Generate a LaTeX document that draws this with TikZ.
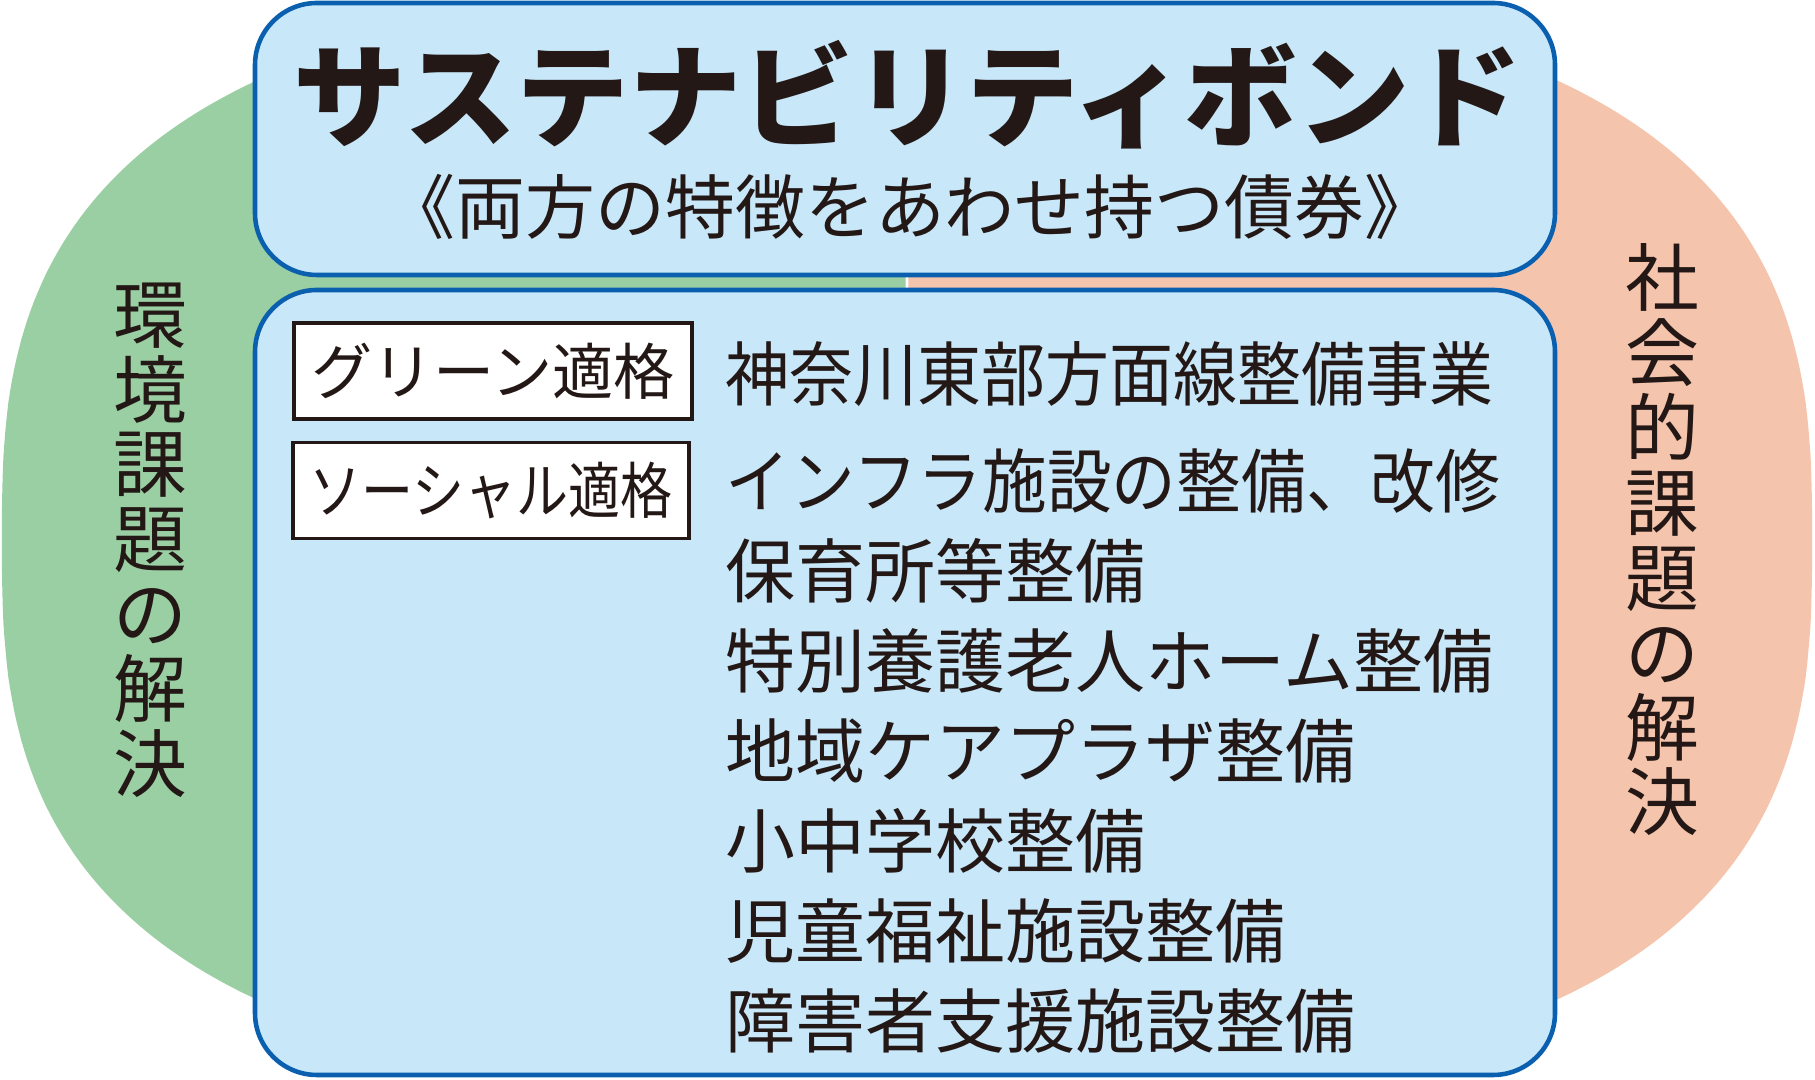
\documentclass[tikz,border=0pt]{standalone}
\usepackage{fontspec}
\newfontfamily\jpfont{Noto Sans CJK JP}
\definecolor{envgreen}{HTML}{9ACFA3}
\definecolor{socsalmon}{HTML}{F5C4AC}
\definecolor{bondfill}{HTML}{C8E7F9}
\definecolor{bondline}{HTML}{0A5FAF}
\definecolor{inkblack}{HTML}{231815}

\begin{document}
\begin{tikzpicture}[
            panel/.style={
              fill=bondfill,
              draw=bondline,
              line width=1.3pt,
              rounded corners=0.62cm
            },
            tagbox/.style={
              draw=inkblack,
              fill=white,
              line width=1pt,
              minimum width=3.98cm,
              minimum height=0.96cm,
              inner sep=0pt,
              text=inkblack,
              font=\jpfont\fontsize{17.4pt}{20pt}\selectfont
            },
            item/.style={
              anchor=west,
              inner sep=0pt,
              text=inkblack,
              font=\jpfont\fontsize{19.9pt}{23pt}\selectfont
            },
            vlbl/.style={
              align=center,
              inner sep=0pt,
              text=inkblack,
              font=\jpfont\fontsize{21pt}{21.3pt}\selectfont
            }
        ]
    \useasboundingbox (0,0) rectangle (18.15,10.8);
    \def\cx{9.07}
    \def\cy{5.4}
    \def\rx{9.05}
    \def\ry{5.5}

    % two halves of the background
    \begin{scope}
    \clip (0,0.1) rectangle (18.15,10.7);
    \fill[envgreen] plot[domain=90:0, samples=90, variable=\t]
        ({\cx-\rx*pow(cos(\t)+0.0001,0.7143)}, {\cy+\ry*pow(sin(\t)+0.0001,0.7143)})
        -- plot[domain=0:90, samples=90, variable=\t]
        ({\cx-\rx*pow(cos(\t)+0.0001,0.7143)}, {\cy-\ry*pow(sin(\t)+0.0001,0.7143)})
        -- cycle;
    \fill[socsalmon] plot[domain=90:0, samples=90, variable=\t]
        ({\cx+\rx*pow(cos(\t)+0.0001,0.7143)}, {\cy+\ry*pow(sin(\t)+0.0001,0.7143)})
        -- plot[domain=0:90, samples=90, variable=\t]
        ({\cx+\rx*pow(cos(\t)+0.0001,0.7143)}, {\cy-\ry*pow(sin(\t)+0.0001,0.7143)})
        -- cycle;
    \end{scope}

    \node[vlbl] (envlbl) at (1.50,5.40) {環\\境\\課\\題\\の\\解\\決};
    \node[vlbl] (soclbl) at (16.62,5.40) {社\\会\\的\\課\\題\\の\\解\\決};

    % bond panels
    \draw[panel] (2.55,8.05) rectangle (15.55,10.77);
    \draw[panel] (2.55,0.05) rectangle (15.55,7.90);

    \node[text=inkblack, inner sep=0pt,
          font=\jpfont\bfseries\fontsize{32pt}{36pt}\selectfont]
        (title) at (9.08,9.85) {サステナビリティボンド};
    \node[text=inkblack, inner sep=0pt,
          font=\jpfont\fontsize{19.9pt}{24pt}\selectfont]
        (subtitle) at (9.10,8.73) {《両方の特徴をあわせ持つ債券》};

    \node[tagbox] (green) at (4.93,7.09) {グリーン適格};
    \node[tagbox, minimum width=3.96cm] (social) at (4.91,5.895)
        {\scalebox{0.85}[1]{ソーシャル適格}};

    % long lines are set narrower
    \node[item] (greenitem) at (7.25,7.06)
        {\scalebox{0.915}[1]{神奈川東部方面線整備事業}};
    \node[item] (item0) at (7.25,5.99)
        {\scalebox{0.925}[1]{インフラ施設の整備、改修}};
    \foreach \i/\n in {1/保育所等整備, 2/特別養護老人ホーム整備,
                       3/地域ケアプラザ整備, 4/小中学校整備,
                       5/児童福祉施設整備, 6/障害者支援施設整備}
        \node[item] (item\i) at (7.25,{5.99-\i*0.90}) {\n};

\end{tikzpicture}
\end{document}
